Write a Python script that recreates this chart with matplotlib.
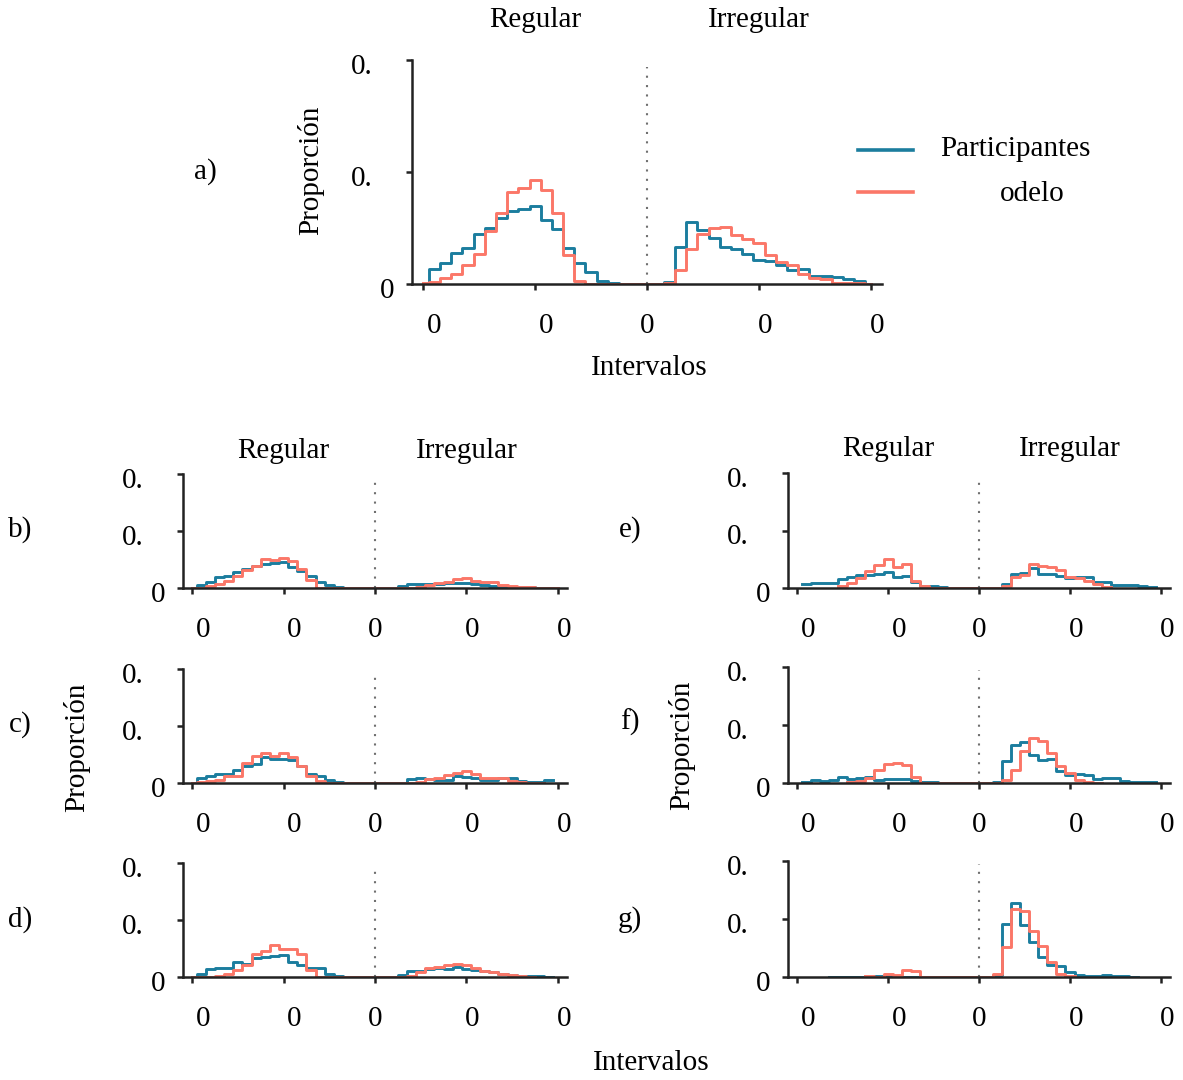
import numpy as np
import matplotlib
matplotlib.use("Agg")
import matplotlib.pyplot as plt
from matplotlib.lines import Line2D
from matplotlib.transforms import ScaledTranslation

plt.rcParams['font.family'] = ['Liberation Serif', 'DejaVu Serif']
plt.rcParams['font.size'] = 21

W, H = 1183, 1080
nan = np.nan

# bin centres of the interval histograms (shared by every panel)
intervals = np.round(np.arange(-2.0, 2.01, 0.1), 1)
xtick_pos = [-2, -1, 0, 1, 2]
xtick_labels = ['0', '0', '0', '0', '0']
ytick_pos = [0, 0.1, 0.2]
ytick_labels = ['0', '0.', '0.']
halves = ['Regular', 'Irregular']
series_names = ['Participantes', 'odelo']

# panel a - all conditions
a_part = [0, .0133, .0187, .0277, .0319, .0443, .0497, .0593, .0648, .0672, .0699,
          .0569, .0488, .0322, .0187, .0111, .0027, .0006, 0, 0, 0,
          0, .002, .0328, .0554, .0482, .0407, .0328, .0316, .0268, .0217,
          .0202, .0172, .0127, .0133, .0075, .0072, .006, .0048, .0024, 0]
a_model = [.0006, .002, .0054, .0087, .0169, .0265, .0473, .063, .0819, .0855, .0928,
           .0837, .0636, .0259, .0024, 0, 0, 0, 0, 0, 0,
           0, .001, .0127, .0316, .0449, .0497, .0512, .0434, .04, .0367,
           .0256, .0196, .0166, .0087, .0057, .0042, .0012, .001, .0006, .0003]

# panels b-d (left column)
b_part = [0, .0058, .0099, .0186, .0215, .0273, .0331, .0378, .0419, .0436, .0453,
          .036, .0291, .0215, .0099, .0058, .0012, 0, 0, 0, 0,
          0, 0, .0029, .0064, .0064, .0076, .0076, .0081, .0081, .0087,
          .0076, .0058, .004, .0029, .0023, .0017, .0012, .0006, .0006, nan]
b_model = [0, .0006, .0029, .007, .0116, .0203, .032, .039, .0517, .05, .0523,
           .0477, .0331, .0134, 0, 0, 0, 0, 0, 0, 0,
           0, 0, 0, .0006, .0017, .0052, .0087, .011, .0157, .0169,
           .0128, .011, .0105, .0047, .0029, .0023, .0012, .0006, 0, 0]
c_part = [0, .0088, .0118, .0165, .0165, .0224, .0306, .0335, .0459, .0429, .0429,
          .0412, .0294, .0165, .0118, .0059, .0012, 0, 0, 0, 0,
          0, 0, 0, .0071, .0082, .0071, .0053, .0053, .0129, .0106,
          .0094, .0059, .0059, .0082, .0082, .0035, .0024, .0024, .0047, nan]
c_model = [0, .0012, .0029, .0047, .0129, .0129, .0353, .0471, .0518, .0471, .0518,
           .0459, .0306, .0118, .0029, 0, 0, 0, 0, 0, 0,
           0, 0, 0, .0006, .0012, .0076, .0088, .0147, .0182, .0212,
           .0165, .0094, .0082, .0082, .0029, .0018, .0006, 0, nan, nan]
d_part = [0, .0059, .0135, .0153, .0153, .0265, .0235, .0341, .0347, .0365, .0382,
          .0265, .0218, .0153, .0153, .0047, .0012, 0, 0, 0, 0,
          0, 0, .0035, .01, .0106, .0147, .0159, .0135, .0182, .0135,
          .0118, .0106, .0094, .0047, .0035, .0018, .0012, .0024, .0006, nan]
d_model = [0, 0, .0006, .0012, .0047, .0129, .0206, .0412, .0459, .0553, .0494,
           .0494, .0412, .0129, 0, 0, 0, 0, 0, 0, 0,
           0, 0, .0006, .0012, .0082, .0165, .0176, .0212, .0229, .0212,
           .0165, .01, .0082, .0047, .0041, .0012, 0, nan, nan, nan]

# panels e-g (right column)
e_part = [nan, .0069, .0092, .0092, .0081, .0156, .0185, .0225, .0231, .0249, .0272,
          .0197, .0214, .0104, .004, .0029, .0017, 0, 0, 0, 0,
          0, 0, .0075, .0243, .026, .0341, .0249, .0237, .0214, .0173,
          .0185, .0185, .011, .011, .0046, .0046, .0052, .004, .0017, nan]
e_model = [nan, nan, nan, nan, nan, .0029, .0087, .0173, .0289, .0393, .0503,
           .0364, .0416, .0116, .0029, 0, 0, 0, 0, 0, 0,
           0, 0, .0029, .0191, .0231, .0422, .0387, .0364, .0318, .0191,
           .0168, .0116, .0064, .001, nan, nan, nan, nan, nan, nan]
f_part = [nan, .0011, .0046, .0029, .0046, .0098, .0075, .0092, .0098, .0052, .0069,
          .0075, .0069, .0029, .0017, .0011, .0006, 0, 0, 0, 0,
          0, .0011, .0374, .0649, .0701, .0489, .0391, .042, .0207, .0132,
          .0149, .0132, .0063, .008, .008, .0034, .0023, .0017, .0011, nan]
f_model = [nan, nan, nan, nan, nan, nan, .0011, .0029, .0086, .023, .0333,
           .0345, .0316, .0103, .0006, 0, 0, 0, 0, 0, 0,
           0, 0, .0046, .0218, .0552, .0782, .0724, .0523, .0293, .0172,
           .0052, .0023, .0006, nan, nan, nan, nan, nan, nan, nan]
g_part = [nan, nan, nan, nan, .0006, .0006, 0, 0, 0, .0012, .0012,
          .0006, 0, 0, 0, .0006, .0006, 0, 0, 0, 0,
          0, .004, .0911, .128, .0893, .0599, .0346, .0213, .0184, .0081,
          .004, .0023, .0017, .0035, .0017, .0017, .0006, nan, nan, nan]
g_model = [nan, nan, nan, nan, nan, nan, nan, nan, .0012, 0, .0046,
           .0029, .0115, .0098, 0, 0, 0, 0, 0, 0, 0,
           0, .0058, .0519, .1164, .1141, .0795, .0542, .0254, .0058, .0012,
           nan, nan, nan, nan, nan, nan, nan, nan, nan, nan]

TEAL = '#1b7d9e'
SALMON = '#fb7768'
AXC = '#222222'

fig = plt.figure(figsize=(W / 100, H / 100), dpi=100)


def px_text(x, y, s, **kw):
    fig.text(x / W, 1 - y / H, s, ha='center', va='center', **kw)


def panel(box, part, model, title_gap=None):
    left, top, right, bottom = box
    ax = fig.add_axes([left / W, 1 - bottom / H, (right - left) / W, (bottom - top) / H])
    ax.plot(intervals, part, drawstyle='steps-mid', color=TEAL, lw=2.1)
    ax.plot(intervals, model, drawstyle='steps-mid', color=SALMON, lw=2.1)
    ax.axvline(0, ymax=0.97, color='#707070', lw=1.5, ls=(0, (1, 3.5)))
    ax.set_xlim(-2.1, 2.1)
    ax.set_ylim(0, 0.2)
    for side in ('top', 'right'):
        ax.spines[side].set_visible(False)
    for side in ('left', 'bottom'):
        ax.spines[side].set_color(AXC)
        ax.spines[side].set_linewidth(1.8)
    ax.tick_params(axis='both', colors=AXC, length=4, width=1.8, labelcolor='black')
    ax.tick_params(axis='x', pad=17)
    ax.tick_params(axis='y', pad=9)
    ax.set_xticks(xtick_pos, xtick_labels)
    ax.set_yticks(ytick_pos, ytick_labels)
    for lab, dx in zip(ax.get_xticklabels(), [11, 11, 0, 6, 6]):
        lab.set_transform(lab.get_transform() + ScaledTranslation(dx / 100, 0, fig.dpi_scale_trans))
    for lab, dx in zip(ax.get_yticklabels(), [0, -21, -21]):
        lab.set_transform(lab.get_transform() + ScaledTranslation(dx / 100, -4 / 100, fig.dpi_scale_trans))
    if title_gap is not None:
        h = bottom - top
        for xc, name in zip([-1, 1], halves):
            ax.text(xc, 1 + title_gap / h, name, transform=ax.get_xaxis_transform(),
                    ha='center', va='center')
    return ax


panel((412, 60, 882, 284), a_part, a_model, 40)
panel((183, 474, 567, 588), b_part, b_model, 23)
panel((183, 669, 567, 783), c_part, c_model)
panel((183, 863, 567, 977), d_part, d_model)
panel((788, 473, 1170, 588), e_part, e_model, 24)
panel((788, 667, 1170, 783), f_part, f_model)
panel((788, 861, 1170, 977), g_part, g_model)

# panel letters
for s, x, y in [('a)', 205, 172), ('b)', 20, 530), ('c)', 20, 725), ('d)', 20, 920),
                ('e)', 630, 530), ('f)', 630, 722), ('g)', 630, 920)]:
    px_text(x, y, s)

# axis titles
px_text(311, 170, 'Proporción', rotation=90)
px_text(77, 747, 'Proporción', rotation=90)
px_text(682, 745, 'Proporción', rotation=90)
px_text(649, 368, 'Intervalos')
px_text(651, 1063, 'Intervalos')

# legend
for y, c in [(150, TEAL), (192, SALMON)]:
    fig.add_artist(Line2D([858 / W, 913 / W], [1 - y / H, 1 - y / H], color=c, lw=2.6))
fig.text(940 / W, 1 - 149 / H, series_names[0], ha='left', va='center')
fig.text(1000 / W, 1 - 194 / H, series_names[1], ha='left', va='center')

fig.savefig('out.png', dpi=100)
